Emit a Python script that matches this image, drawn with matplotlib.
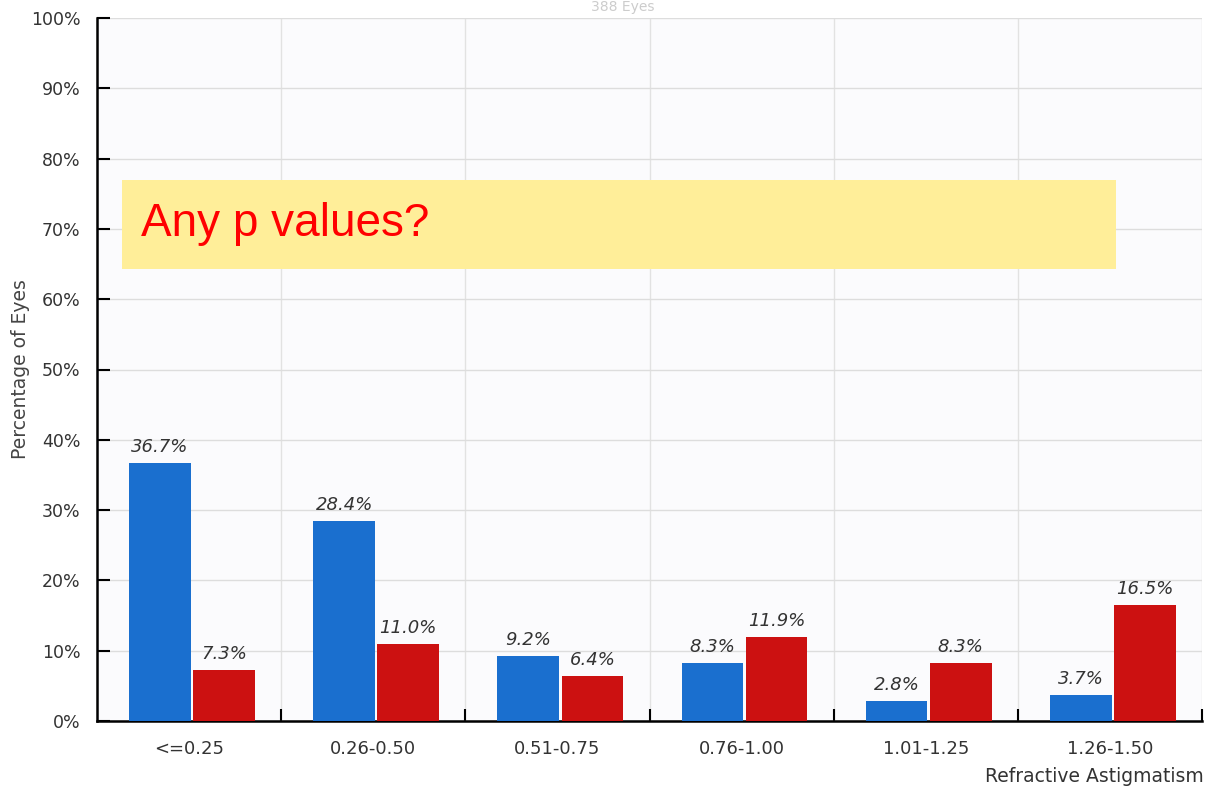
import matplotlib
matplotlib.use("Agg")
import matplotlib.pyplot as plt
from matplotlib.patches import Rectangle
import numpy as np

categories = ["<=0.25", "0.26-0.50", "0.51-0.75", "0.76-1.00", "1.01-1.25", "1.26-1.50"]
blue_vals = [36.7, 28.4, 9.2, 8.3, 2.8, 3.7]
red_vals = [7.3, 11.0, 6.4, 11.9, 8.3, 16.5]
yticks = [0, 10, 20, 30, 40, 50, 60, 70, 80, 90, 100]

plt.rcParams['font.family'] = ['DejaVu Sans']

fig = plt.figure(figsize=(12.09, 7.92), dpi=100)
ax = fig.add_axes([97/1209, 71/792, 1105/1209, 703/792])
ax.set_facecolor("#fbfbfd")

x = np.arange(len(categories))
w = 0.335
blue_c = "#1a6fcf"
red_c = "#cc1111"
bb = ax.bar(x - 0.158, blue_vals, w, color=blue_c, zorder=3)
rb = ax.bar(x + 0.19, red_vals, w, color=red_c, zorder=3)

for rects, vals in ((bb, blue_vals), (rb, red_vals)):
    for r, v in zip(rects, vals):
        ax.annotate(f"{v:.1f}%", (r.get_x() + r.get_width()/2, v),
                    xytext=(0, 5), textcoords="offset points",
                    ha="center", va="bottom", fontsize=13, style="italic",
                    color="#333333", zorder=4)

ax.set_xlim(-0.5, 5.5)
ax.set_ylim(0, 100)
ax.set_yticks(yticks)
ax.set_yticklabels([f"{t}%" for t in yticks], fontsize=12.5, color="#333333")
ax.set_xticks(x)
ax.set_xticklabels(categories, fontsize=13, color="#333333")
ax.set_xticks(np.arange(0.5, 6, 1), minor=True)
ax.tick_params(axis="x", which="major", length=0, pad=14)
ax.tick_params(axis="x", which="minor", direction="in", length=9, width=1.5, color="black")
ax.tick_params(axis="y", direction="in", length=9, width=1.5, color="black", pad=12)

for s in ("top", "right"):
    ax.spines[s].set_visible(False)
for s in ("left", "bottom"):
    ax.spines[s].set_linewidth(1.8)
    ax.spines[s].set_color("black")

ax.grid(axis="y", which="major", color="#dddddd", linewidth=1, zorder=0)
ax.grid(axis="x", which="minor", color="#e2e2e2", linewidth=1, zorder=0)
ax.set_axisbelow(True)

ax.set_ylabel("Percentage of Eyes", fontsize=13.5, color="#444444")
ax.yaxis.set_label_coords(-0.061, 0.5)
fig.text(1094/1209, 1 - 777/792, "Refractive Astigmatism", ha="center", va="center",
         fontsize=13.5, color="#333333")

fig.text(0.515, 1.0, "388 Eyes", ha="center", va="top", fontsize=10, color="#cccccc")

fig.patches.append(Rectangle((122/1209, 1 - 269/792), 994/1209, 89/792,
                             transform=fig.transFigure, facecolor="#ffee99",
                             edgecolor="none", zorder=10))
fig.text(141/1209, 1 - 224/792, "Any p values?", ha="left", va="center",
         fontsize=33, color="#ff0000", zorder=11, family="Liberation Sans")

fig.savefig("out.png", dpi=100)
